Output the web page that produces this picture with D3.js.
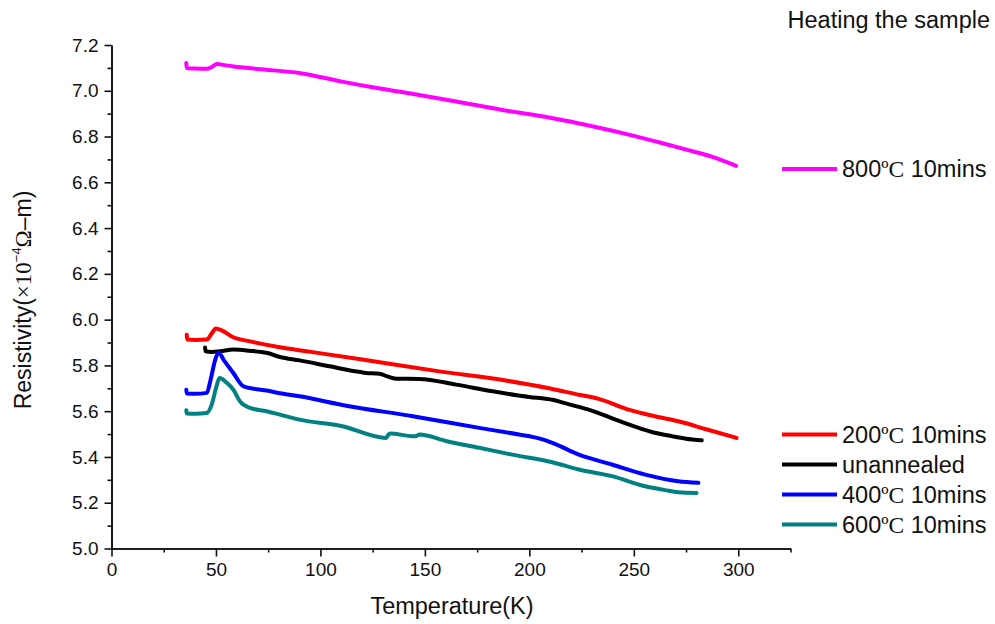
<!DOCTYPE html>
<html>
<head>
<meta charset="utf-8">
<script src="https://cdn.jsdelivr.net/npm/d3@7"></script>
<style>
  body { margin: 0; background: #fff; }
  svg text { font-family: Arial, "Liberation Sans", sans-serif; fill: #111; }
  .serif { font-family: "Times New Roman", "Liberation Serif", serif; }
</style>
</head>
<body>
<div id="chart"></div>
<script>
// data: temperature (K) and resistivity (x10^-4 ohm-m)
var temp800 = [35.8, 36, 40, 45.6, 48, 50.5, 54, 58.6, 70, 90.5, 109.7, 125, 143.8, 165, 186.5, 210, 229, 250, 262, 275.6, 288, 299];
var res800 = [7.121, 7.099, 7.097, 7.096, 7.104, 7.117, 7.112, 7.106, 7.095, 7.077, 7.041, 7.015, 6.987, 6.953, 6.917, 6.882, 6.847, 6.803, 6.775, 6.742, 6.71, 6.672];

var temp200 = [36, 36.3, 40, 45.6, 48, 49.9, 53, 58.3, 66.3, 80.6, 93.3, 120, 156.9, 188.7, 210, 223.7, 233.2, 247.5, 260, 271.3, 285, 299.2];
var res200 = [5.934, 5.913, 5.911, 5.913, 5.94, 5.961, 5.952, 5.923, 5.905, 5.879, 5.862, 5.826, 5.774, 5.734, 5.699, 5.672, 5.654, 5.607, 5.578, 5.556, 5.52, 5.483];

var tempUn = [44.8, 45, 48, 52, 58.3, 66, 74.2, 80.6, 90, 104.4, 115, 121.9, 126, 128.3, 132, 136.2, 147.4, 165, 182.3, 200, 207.8, 211, 217, 223.7, 228, 233.2, 240, 252.3, 260, 268.1, 275, 282.5];
var resUn = [5.878, 5.862, 5.859, 5.862, 5.869, 5.864, 5.855, 5.837, 5.822, 5.796, 5.777, 5.767, 5.765, 5.764, 5.752, 5.742, 5.741, 5.716, 5.687, 5.662, 5.654, 5.65, 5.635, 5.619, 5.608, 5.592, 5.567, 5.527, 5.506, 5.491, 5.48, 5.473];

var temp400 = [35.8, 36, 40, 45.6, 47.5, 49.5, 51.2, 54, 58.3, 63.1, 68, 74.2, 80.6, 90, 112.4, 144.2, 176, 195, 205, 211, 223.7, 239.5, 255.5, 271.3, 280.9];
var res400 = [5.694, 5.677, 5.676, 5.68, 5.74, 5.82, 5.855, 5.82, 5.767, 5.709, 5.698, 5.69, 5.678, 5.665, 5.624, 5.578, 5.527, 5.498, 5.48, 5.462, 5.41, 5.367, 5.323, 5.294, 5.287];

var temp600 = [35.8, 36, 40, 45.6, 48, 50, 51.7, 55.2, 58.3, 61.5, 66.3, 74.2, 80.6, 90, 110, 131.5, 132.5, 133.5, 144.2, 146, 147.4, 160, 176, 191.8, 211, 223.7, 239.5, 255.5, 265, 271.3, 280];
var res600 = [5.604, 5.59, 5.589, 5.592, 5.63, 5.7, 5.745, 5.724, 5.694, 5.643, 5.614, 5.6, 5.585, 5.563, 5.535, 5.483, 5.497, 5.502, 5.491, 5.492, 5.498, 5.47, 5.44, 5.41, 5.377, 5.345, 5.316, 5.272, 5.255, 5.246, 5.243];

var seriesNames = ["800", "200", "unannealed", "400", "600"];
var seriesColors = ["#ff00ff", "#ff0000", "#000000", "#0000ff", "#008080"];
var seriesTemps = [temp800, temp200, tempUn, temp400, temp600];
var seriesRes = [res800, res200, resUn, res400, res600];

var xMajor = [0, 50, 100, 150, 200, 250, 300];
var xMinor = [25, 75, 125, 175, 225, 275, 325];
var yMajor = [5.0, 5.2, 5.4, 5.6, 5.8, 6.0, 6.2, 6.4, 6.6, 6.8, 7.0, 7.2];
var yMinor = [5.1, 5.3, 5.5, 5.7, 5.9, 6.1, 6.3, 6.5, 6.7, 6.9, 7.1];

var width = 995, height = 624;

var svg = d3
  .select("#chart")
  .append("svg")
  .attr("width", width)
  .attr("height", height);

var xScale = d3.scaleLinear().domain([0, 325]).range([111.5, 790.5]);
var yScale = d3.scaleLinear().domain([5.0, 7.2]).range([548.5, 45]);

// axes
svg
  .append("g")
  .attr("class", "axis")
  .attr("transform", "translate(0,548.5)")
  .call(d3.axisBottom(xScale).tickValues(xMinor).tickSize(4).tickSizeOuter(0).tickFormat(""));
svg
  .append("g")
  .attr("class", "axis")
  .attr("transform", "translate(0,548.5)")
  .call(d3.axisBottom(xScale).tickValues(xMajor).tickSize(8).tickSizeOuter(0).tickPadding(6).tickFormat(d3.format("d")));

svg
  .append("g")
  .attr("class", "axis")
  .attr("transform", "translate(111.5,0)")
  .call(d3.axisLeft(yScale).tickValues(yMinor).tickSize(4).tickSizeOuter(0).tickFormat(""));
svg
  .append("g")
  .attr("class", "axis")
  .attr("transform", "translate(111.5,0)")
  .call(d3.axisLeft(yScale).tickValues(yMajor).tickSize(7).tickSizeOuter(0).tickPadding(6).tickFormat(d3.format(".1f")));

svg.selectAll(".axis path, .axis line").attr("stroke", "#111").attr("stroke-width", 1.6);
svg.selectAll(".axis text").style("font-size", "19px").attr("fill", "#111");

// curves
var line = d3
  .line()
  .curve(d3.curveMonotoneX)
  .x(function(d) { return xScale(d[0]); })
  .y(function(d) { return yScale(d[1]); });

seriesTemps.forEach(function(t, i) {
  var pts = t.map(function(v, j) { return [v, seriesRes[i][j]]; });
  svg
    .append("path")
    .datum(pts)
    .attr("fill", "none")
    .attr("stroke", seriesColors[i])
    .attr("stroke-width", 4)
    .attr("stroke-linejoin", "round")
    .attr("stroke-linecap", "round")
    .attr("d", line);
});

// legend
var legendY = [169, 434.5, 464.5, 494.5, 524.5];
seriesNames.forEach(function(name, i) {
  var g = svg.append("g").attr("transform", "translate(0," + legendY[i] + ")");
  g.append("line")
    .attr("x1", 782).attr("x2", 837)
    .attr("stroke", seriesColors[i])
    .attr("stroke-width", 4);
  var t = g.append("text")
    .attr("x", 842)
    .attr("y", 8)
    .style("font-size", "23.5px");
  if (name == "unannealed") {
    t.text("unannealed");
  } else {
    t.append("tspan").text(name);
    t.append("tspan").attr("class", "serif").text("\u00baC");
    t.append("tspan").text(" 10mins");
  }
});

svg
  .append("text")
  .attr("text-anchor", "end")
  .attr("x", 990)
  .attr("y", 28)
  .style("font-size", "23.5px")
  .text("Heating the sample");

svg
  .append("text")
  .attr("text-anchor", "middle")
  .attr("x", 452)
  .attr("y", 614)
  .style("font-size", "23.5px")
  .text("Temperature(K)");

var ylab = svg
  .append("text")
  .attr("text-anchor", "middle")
  .attr("transform", "translate(31,300) rotate(-90)")
  .style("font-size", "23px");
ylab.append("tspan").text("Resistivity(");
ylab.append("tspan").attr("class", "serif").text("\u00d710");
ylab.append("tspan").attr("dy", -10).style("font-size", "13px").text("\u22124");
ylab.append("tspan").attr("dy", 10).attr("class", "serif").text("\u03a9");
ylab.append("tspan").text("\u2013m)");
</script>
</body>
</html>
